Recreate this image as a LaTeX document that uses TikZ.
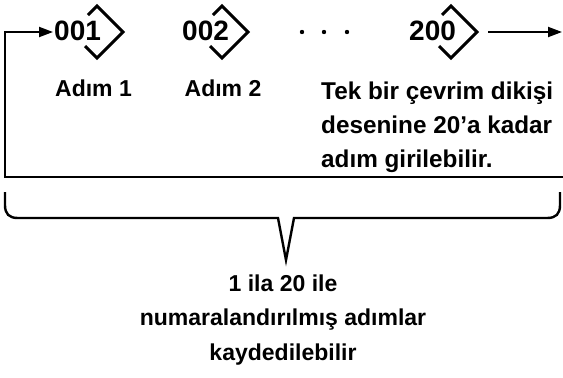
\documentclass[tikz,border=0pt]{standalone}
\usepackage{fontspec}
\setmainfont{Liberation Sans}
\usetikzlibrary{arrows.meta}
\begin{document}
\begin{tikzpicture}[x=1pt,y=-1pt,
  ln/.style={line width=2pt},
  arr/.style={ln,-{Triangle[length=14pt,width=10pt]}},
  dia/.style={line width=3pt, miter limit=10},
  num/.style={font=\fontsize{28}{30}\selectfont\bfseries, inner sep=0, anchor=base west},
  lbl/.style={font=\fontsize{23}{34.5}\selectfont\bfseries, inner sep=0},
]
\useasboundingbox (0,0) rectangle (563,378);
\fill[white] (0,0) rectangle (563,378);

% step numbers
\node[num] (n1) at (54,40) {001};
\node[num] (n2) at (182,40) {002};
\node[num] (n3) at (409,40) {200};

% chevron diamonds
\foreach \cx in {97,222,451}
  \draw[dia] (\cx-9,15) -- (\cx,6) -- (\cx+26,32) -- (\cx,58) -- (\cx-12,46);

% dots
\foreach \dx in {302,324,347}
  \fill (\dx,32) circle (2.2);

% loop connector
\coordinate (loopR) at (563,177);
\coordinate (loopL) at (5,177);
\coordinate (in1) at (53,32);
\draw[arr] (loopR) -- (loopL) |- (in1);

\coordinate (out3) at (488,32);
\coordinate (outE) at (562,32);
\draw[arr] (out3) -- (outE);

% labels
\node[lbl, anchor=base] (a1) at (93.5,96) {Adım 1};
\node[lbl, anchor=base] (a2) at (223,96) {Adım 2};
\node[lbl, font=\fontsize{24.3}{34}\selectfont\bfseries, anchor=base west, align=left] (note) at (321,167) {Tek bir çevrim dikişi\\desenine 20’a kadar\\adım girilebilir.};

% brace
\draw[line width=2.4pt] (5,192) -- (5,205) .. controls (5,214) and (9,218) .. (18,218)
  -- (278,218) -- (286,260) -- (294,218) -- (547,218)
  .. controls (556,218) and (560,214) .. (560,205) -- (560,192);

\node[lbl, anchor=base, align=center] (cap) at (283,360) {1 ila 20 ile\\numaralandırılmış adımlar\\kaydedilebilir};
\end{tikzpicture}
\end{document}
